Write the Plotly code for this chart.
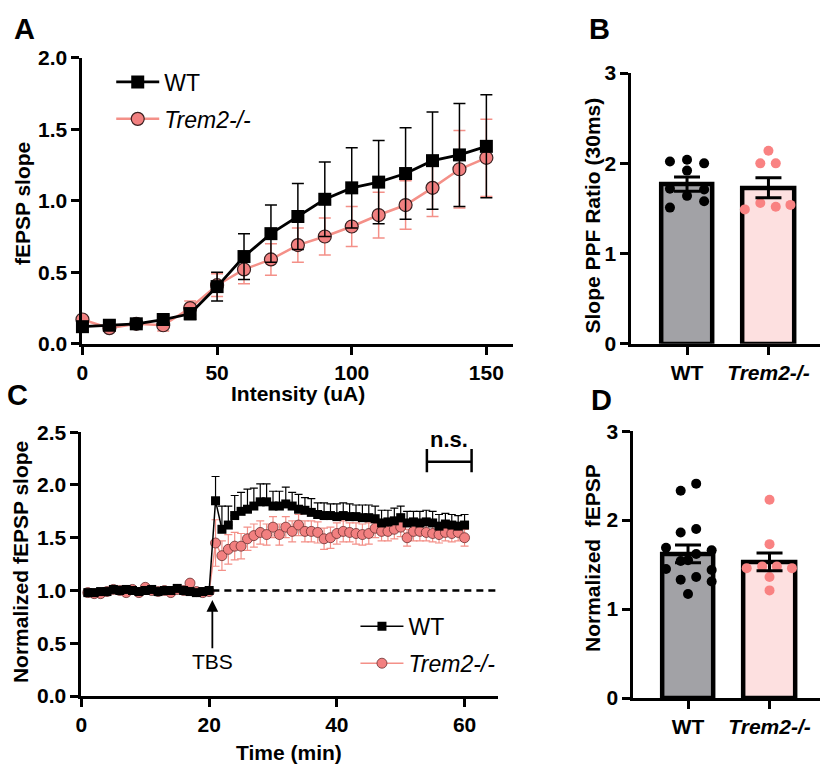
import plotly.graph_objects as go

# ---------------- DATA ----------------
# Panel A: input-output curve
intensity_uA = [0, 10, 20, 30, 40, 50, 60, 70, 80, 90, 100, 110, 120, 130, 140, 150]
io_wt_mean = [0.12, 0.13, 0.14, 0.17, 0.21, 0.40, 0.61, 0.77, 0.89, 1.01, 1.09, 1.13, 1.19, 1.28, 1.32, 1.38]
io_wt_sem = [0.03, 0.03, 0.02, 0.03, 0.04, 0.10, 0.16, 0.20, 0.23, 0.26, 0.28, 0.29, 0.32, 0.34, 0.36, 0.36]
io_ko_mean = [0.17, 0.11, 0.14, 0.13, 0.25, 0.41, 0.52, 0.59, 0.69, 0.75, 0.82, 0.90, 0.97, 1.09, 1.22, 1.30]
io_ko_sem = [0.02, 0.02, 0.02, 0.04, 0.05, 0.08, 0.10, 0.11, 0.12, 0.13, 0.14, 0.16, 0.17, 0.20, 0.27, 0.27]

# Panel B: paired-pulse ratio
groups = ["WT", "<i>Trem2-/-</i>"]
ppf_bar_mean = [1.77, 1.73]
ppf_bar_sem = [0.08, 0.11]
ppf_wt_points = [2.02, 2.04, 2.00, 1.92, 1.72, 1.71, 1.64, 1.58, 1.51]
ppf_ko_points = [2.14, 2.00, 2.00, 1.56, 1.52, 1.49, 1.54]

# Panel C: LTP time course
time_min = [1, 2, 3, 4, 5, 6, 7, 8, 9, 10, 11, 12, 13, 14, 15, 16, 17, 18, 19, 20,
            21, 22, 23, 24, 25, 26, 27, 28, 29, 30, 31, 32, 33, 34, 35, 36, 37, 38, 39, 40,
            41, 42, 43, 44, 45, 46, 47, 48, 49, 50, 51, 52, 53, 54, 55, 56, 57, 58, 59, 60]
ltp_wt_mean = [0.98, 0.98, 0.99, 0.99, 1.01, 1.00, 1.01, 1.00, 0.99, 1.00,
               1.01, 0.99, 1.00, 1.00, 1.02, 1.00, 0.99, 0.98, 0.99, 1.00,
               1.85, 1.58, 1.62, 1.71, 1.75, 1.77, 1.80, 1.84, 1.84, 1.80,
               1.80, 1.82, 1.80, 1.77, 1.76, 1.74, 1.72, 1.71, 1.71, 1.70,
               1.71, 1.70, 1.70, 1.69, 1.69, 1.68, 1.64, 1.65, 1.66, 1.69,
               1.64, 1.65, 1.64, 1.65, 1.64, 1.61, 1.63, 1.62, 1.61, 1.62]
ltp_wt_sem = [0.02, 0.02, 0.02, 0.02, 0.02, 0.02, 0.02, 0.02, 0.02, 0.02,
              0.02, 0.02, 0.02, 0.02, 0.02, 0.02, 0.02, 0.02, 0.02, 0.02,
              0.23, 0.22, 0.18, 0.19, 0.18, 0.19, 0.17, 0.17, 0.17, 0.14,
              0.14, 0.16, 0.13, 0.14, 0.12, 0.13, 0.11, 0.12, 0.11, 0.12,
              0.12, 0.12, 0.11, 0.12, 0.12, 0.12, 0.12, 0.11, 0.12, 0.11,
              0.11, 0.10, 0.11, 0.11, 0.11, 0.11, 0.10, 0.10, 0.10, 0.10]
ltp_ko_mean = [0.98, 0.97, 0.97, 0.99, 1.01, 1.00, 0.98, 1.01, 0.98, 1.03,
               1.00, 0.99, 1.00, 0.98, 1.01, 1.00, 1.07, 0.99, 0.98, 0.99,
               1.45, 1.33, 1.39, 1.42, 1.42, 1.49, 1.52, 1.55, 1.53, 1.60,
               1.53, 1.60, 1.56, 1.62, 1.56, 1.56, 1.55, 1.49, 1.50, 1.54,
               1.56, 1.55, 1.54, 1.53, 1.54, 1.59, 1.56, 1.56, 1.58, 1.60,
               1.50, 1.56, 1.56, 1.55, 1.54, 1.53, 1.55, 1.54, 1.55, 1.50]
ltp_ko_sem = [0.02, 0.02, 0.02, 0.02, 0.02, 0.02, 0.02, 0.02, 0.02, 0.02,
              0.02, 0.02, 0.02, 0.02, 0.02, 0.02, 0.02, 0.02, 0.02, 0.02,
              0.22, 0.14, 0.14, 0.13, 0.12, 0.11, 0.11, 0.11, 0.10, 0.10,
              0.10, 0.10, 0.10, 0.10, 0.10, 0.10, 0.10, 0.10, 0.10, 0.10,
              0.10, 0.09, 0.10, 0.10, 0.10, 0.09, 0.09, 0.09, 0.09, 0.09,
              0.08, 0.09, 0.09, 0.08, 0.08, 0.08, 0.08, 0.08, 0.08, 0.08]
tbs_time = 20.5

# Panel D: normalized fEPSP
fepsp_bar_mean = [1.62, 1.53]
fepsp_bar_sem = [0.10, 0.10]
fepsp_wt_points = [2.41, 2.33, 1.90, 1.86, 1.69, 1.66, 1.62, 1.54, 1.55, 1.45, 1.44, 1.36, 1.33, 1.31, 1.17]
fepsp_ko_points = [2.23, 1.73, 1.46, 1.48, 1.48, 1.46, 1.36, 1.21]

# ---------------- STYLE ----------------
W, H = 828, 775
FONT = "Liberation Sans, Arial, sans-serif"
BLACK = "#000000"
PINK = "#f28080"
PINK_LINE = "#f49088"
DOT_PINK = "#f98282"
WT_FILL = "#a2a2a6"
KO_FILL = "#fde0e0"

# horizontal jitter offsets (layout only) for dot plots
ppf_wt_jit = [-0.21, 0.0, 0.21, 0.0, -0.21, 0.21, 0.0, 0.21, -0.21]
ppf_ko_jit = [0.0, -0.10, 0.09, -0.10, 0.09, -0.29, 0.27]
fe_wt_jit = [0.10, -0.09, 0.10, -0.09, -0.27, 0.29, 0.10, -0.09, 0.0, -0.27, 0.29, 0.10, -0.09, 0.29, 0.0]
fe_ko_jit = [0.0, 0.0, -0.28, -0.09, 0.09, 0.275, 0.0, 0.0]


def xd(a, b):
    return [a / W, b / W]


def yd(top, bottom):
    return [1 - bottom / H, 1 - top / H]


fig = go.Figure()

# ---- Panel A ----
fig.add_trace(go.Scatter(
    x=intensity_uA, y=io_ko_mean, mode="lines+markers", name="<i>Trem2-/-</i>",
    line=dict(color=PINK_LINE, width=2.5),
    marker=dict(symbol="circle", size=13, color=PINK, line=dict(color="#3a2020", width=1.2)),
    error_y=dict(type="data", array=io_ko_sem, color=PINK_LINE, thickness=1.5, width=6),
    xaxis="x", yaxis="y", legend="legend", legendgroup="ko", legendrank=2, cliponaxis=False))
fig.add_trace(go.Scatter(
    x=intensity_uA, y=io_wt_mean, mode="lines+markers", name="WT",
    line=dict(color=BLACK, width=2.8),
    marker=dict(symbol="square", size=13, color=BLACK),
    error_y=dict(type="data", array=io_wt_sem, color=BLACK, thickness=1.5, width=6),
    xaxis="x", yaxis="y", legend="legend", legendgroup="wt", legendrank=1, cliponaxis=False))

# ---- Panel B ----
fig.add_trace(go.Bar(
    x=[0, 1], y=ppf_bar_mean, width=0.63,
    marker=dict(color=[WT_FILL, KO_FILL], line=dict(color=BLACK, width=4.5)),
    showlegend=False, xaxis="x2", yaxis="y2"))
fig.add_trace(go.Scatter(
    x=[0 + j for j in ppf_wt_jit], y=ppf_wt_points, mode="markers",
    marker=dict(size=10, color=BLACK), showlegend=False, xaxis="x2", yaxis="y2"))
fig.add_trace(go.Scatter(
    x=[1 + j for j in ppf_ko_jit], y=ppf_ko_points, mode="markers",
    marker=dict(size=10, color=DOT_PINK), showlegend=False, xaxis="x2", yaxis="y2"))
fig.add_trace(go.Scatter(
    x=[0, 1], y=ppf_bar_mean, mode="markers", marker=dict(size=1, color="rgba(0,0,0,0)"),
    error_y=dict(type="data", array=ppf_bar_sem, color=BLACK, thickness=3, width=13),
    showlegend=False, xaxis="x2", yaxis="y2"))

# ---- Panel C ----
fig.add_trace(go.Scatter(
    x=time_min, y=ltp_ko_mean, mode="lines+markers", name="<i>Trem2-/-</i>",
    line=dict(color=PINK_LINE, width=1.5),
    marker=dict(symbol="circle", size=10, color=PINK, line=dict(color="#6a3030", width=0.8)),
    error_y=dict(type="data", array=ltp_ko_sem, color=PINK_LINE, thickness=1.2, width=4),
    xaxis="x3", yaxis="y3", legend="legend2", legendgroup="ko2", legendrank=2, cliponaxis=False))
fig.add_trace(go.Scatter(
    x=time_min, y=ltp_wt_mean, mode="lines+markers", name="WT",
    line=dict(color=BLACK, width=1.5),
    marker=dict(symbol="square", size=9, color=BLACK),
    error_y=dict(type="data", array=ltp_wt_sem, arrayminus=[0] * len(ltp_wt_sem),
                 color=BLACK, thickness=1.2, width=4),
    xaxis="x3", yaxis="y3", legend="legend2", legendgroup="wt2", legendrank=1, cliponaxis=False))

# ---- Panel D ----
fig.add_trace(go.Bar(
    x=[0, 1], y=fepsp_bar_mean, width=0.63,
    marker=dict(color=[WT_FILL, KO_FILL], line=dict(color=BLACK, width=4.5)),
    showlegend=False, xaxis="x4", yaxis="y4"))
fig.add_trace(go.Scatter(
    x=[0 + j for j in fe_wt_jit], y=fepsp_wt_points, mode="markers",
    marker=dict(size=10, color=BLACK), showlegend=False, xaxis="x4", yaxis="y4"))
fig.add_trace(go.Scatter(
    x=[1 + j for j in fe_ko_jit], y=fepsp_ko_points, mode="markers",
    marker=dict(size=10, color=DOT_PINK), showlegend=False, xaxis="x4", yaxis="y4"))
fig.add_trace(go.Scatter(
    x=[0, 1], y=fepsp_bar_mean, mode="markers", marker=dict(size=1, color="rgba(0,0,0,0)"),
    error_y=dict(type="data", array=fepsp_bar_sem, color=BLACK, thickness=3, width=13),
    showlegend=False, xaxis="x4", yaxis="y4"))

tickfont = dict(family=FONT, size=21, color=BLACK, weight="bold")
axcommon = dict(showline=True, linecolor=BLACK, linewidth=3, ticks="outside", ticklen=8,
                tickwidth=3, tickcolor=BLACK, tickfont=tickfont, showgrid=False, zeroline=False,
                fixedrange=True)
legfont = dict(family=FONT, size=23, color=BLACK)

fig.update_layout(
    width=W, height=H, margin=dict(l=0, r=0, t=0, b=0),
    paper_bgcolor="white", plot_bgcolor="white",
    font=dict(family=FONT, color=BLACK),
    xaxis=dict(domain=xd(77, 511), range=[0, 160], tickvals=[0, 50, 100, 150], anchor="y", **axcommon),
    yaxis=dict(domain=yd(47, 342), range=[0, 2.0], tickvals=[0, 0.5, 1.0, 1.5, 2.0], tickformat=".1f",
               anchor="x", **axcommon),
    xaxis2=dict(domain=xd(630, 820), range=[-0.683, 1.634], tickvals=[0, 1], ticktext=groups,
                anchor="y2", **axcommon),
    yaxis2=dict(domain=yd(63, 342), range=[0, 3], tickvals=[0, 1, 2, 3], anchor="x2", **axcommon),
    xaxis3=dict(domain=xd(76, 496), range=[0, 65.3], tickvals=[0, 20, 40, 60], anchor="y3", **axcommon),
    yaxis3=dict(domain=yd(433, 705), range=[0, 2.5], tickvals=[0, 0.5, 1.0, 1.5, 2.0, 2.5], tickformat=".1f",
                anchor="x3", **axcommon),
    xaxis4=dict(domain=xd(632, 820), range=[-0.67, 1.62], tickvals=[0, 1], ticktext=groups,
                anchor="y4", **axcommon),
    yaxis4=dict(domain=yd(432, 707), range=[0, 3], tickvals=[0, 1, 2, 3], anchor="x4", **axcommon),
    legend=dict(x=106 / W, y=1 - 50 / H, xanchor="left", yanchor="top", bgcolor="rgba(0,0,0,0)",
                font=legfont, traceorder="grouped", itemwidth=43, tracegroupgap=4),
    legend2=dict(x=352 / W, y=1 - 611 / H, xanchor="left", yanchor="top", bgcolor="rgba(0,0,0,0)",
                 font=legfont, traceorder="grouped", itemwidth=43, tracegroupgap=4),
    bargap=0,
)

# reference line and n.s. bracket in panel C (data coords)
fig.add_shape(type="line", xref="x3", yref="y3", x0=tbs_time, x1=65.3, y0=1.0, y1=1.0,
              line=dict(color=BLACK, width=2.5, dash="7px,5px"))
fig.add_shape(type="line", xref="x3", yref="y3", x0=54.1, x1=61.1, y0=2.22, y1=2.22,
              line=dict(color=BLACK, width=2.5))
fig.add_shape(type="line", xref="x3", yref="y3", x0=54.1, x1=54.1, y0=2.12, y1=2.34,
              line=dict(color=BLACK, width=2.5))
fig.add_shape(type="line", xref="x3", yref="y3", x0=61.1, x1=61.1, y0=2.12, y1=2.34,
              line=dict(color=BLACK, width=2.5))


def title_ann(x, y, text, angle=0, size=21):
    return dict(xref="paper", yref="paper", x=x / W, y=1 - y / H, text=text, textangle=angle,
                xanchor="center", yanchor="middle", showarrow=False,
                font=dict(family=FONT, size=size, color=BLACK, weight="bold"))


def letter_ann(x, y, text):
    return dict(xref="paper", yref="paper", x=x / W, y=1 - y / H, text=text,
                xanchor="center", yanchor="middle", showarrow=False,
                font=dict(family=FONT, size=29, color=BLACK, weight="bold"))


annotations = [
    dict(xref="x3", yref="y3", x=57.6, y=2.43, text="n.s.", showarrow=False,
         xanchor="center", yanchor="middle",
         font=dict(family=FONT, size=22, color=BLACK, weight="bold")),
    dict(xref="x3", yref="y3", x=tbs_time, y=0.91, ax=tbs_time, ay=0.44, axref="x3", ayref="y3",
         text="", showarrow=True, arrowhead=2, arrowsize=1.3, arrowwidth=1.8, arrowcolor=BLACK),
    dict(xref="x3", yref="y3", x=tbs_time, y=0.33, text="TBS", showarrow=False,
         xanchor="center", yanchor="middle", font=dict(family=FONT, size=21, color=BLACK)),
    title_ann(16, 197, "fEPSP slope", -90),
    title_ann(294, 393, "Intensity (uA)"),
    title_ann(591, 210, "Slope PPF Ratio (30ms)", -90),
    title_ann(14, 567, "Normalized fEPSP slope", -90),
    title_ann(285, 763, "Time (min)"),
    title_ann(591, 563, "Normalized  fEPSP", -90),
    letter_ann(19, 18, "A"),
    letter_ann(598, 18, "B"),
    letter_ann(12, 395, "C"),
    letter_ann(600, 400, "D"),
]
fig.update_layout(annotations=annotations)

fig.write_html("out.html", config={"displayModeBar": False},
               post_script="document.body.style.margin='0';document.body.style.overflow='hidden';")
